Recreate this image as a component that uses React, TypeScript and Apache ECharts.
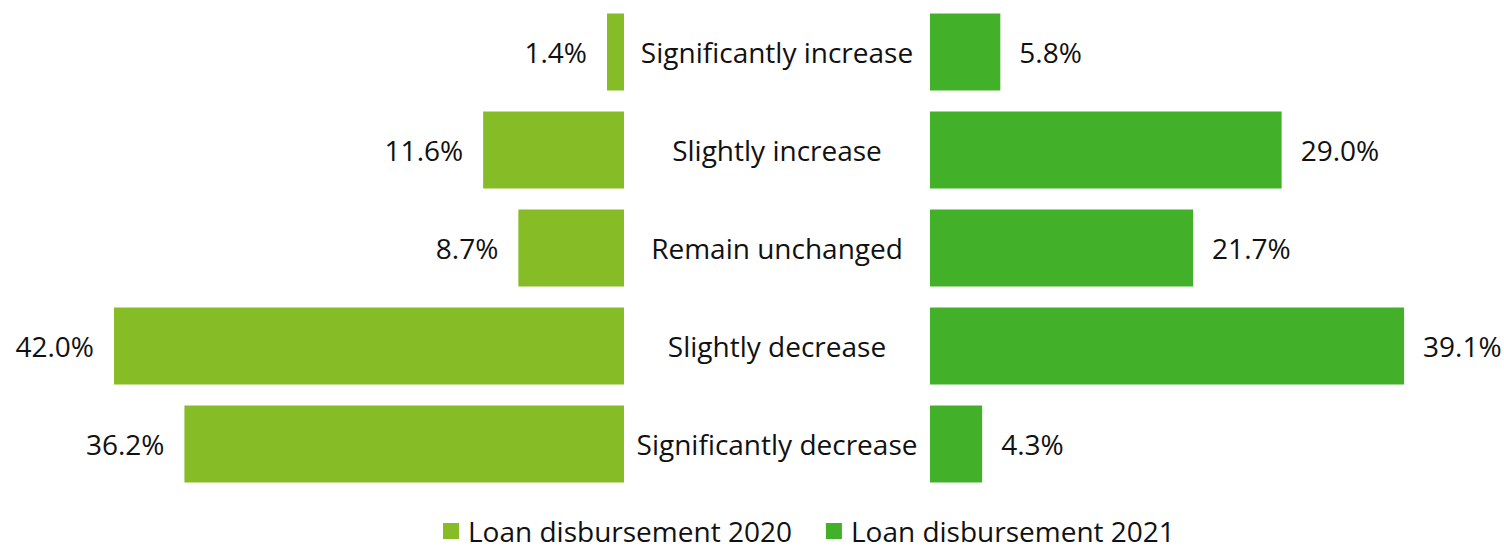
import React, { useEffect, useRef } from "react";
import * as echarts from "echarts";

const categories = [
  "Significantly increase",
  "Slightly increase",
  "Remain unchanged",
  "Slightly decrease",
  "Significantly decrease",
];
const values2020 = [1.4, 11.6, 8.7, 42.0, 36.2];
const values2021 = [5.8, 29.0, 21.7, 39.1, 4.3];
const seriesNames = ["Loan disbursement 2020", "Loan disbursement 2021"];

const FONT = "'Open Sans', 'Noto Sans', sans-serif";
const C2020 = "#86BC25";
const C2021 = "#43B02A";
const FS = 28;

export default function App() {
  const ref = useRef<HTMLDivElement>(null);
  useEffect(() => {
    if (!ref.current) return;
    const chart = echarts.init(ref.current, null, { renderer: "svg" });
    const fmt = (p: any) => `${Number(p.value).toFixed(1)}%`;
    chart.setOption({
      animation: false,
      textStyle: { fontFamily: FONT },
      legend: {
        data: seriesNames,
        top: 512,
        left: 438,
        icon: "rect",
        itemWidth: 16,
        itemHeight: 16,
        itemGap: 34,
        textStyle: { fontSize: FS, color: "#111", fontFamily: FONT, padding: [0, 0, 0, 4] },
      },
      grid: [
        { left: 114, right: 880, top: 3, height: 490 },
        { left: 930, right: 89, top: 3, height: 490 },
      ],
      xAxis: [
        { gridIndex: 0, type: "value", min: 0, max: 42, inverse: true, show: false },
        { gridIndex: 1, type: "value", min: 0, max: 40, show: false },
      ],
      yAxis: [
        { gridIndex: 0, type: "category", data: categories, inverse: true, show: false },
        {
          gridIndex: 1,
          type: "category",
          data: categories,
          inverse: true,
          axisLine: { show: false },
          axisTick: { show: false },
          axisLabel: {
            margin: 153,
            align: "center",
            fontSize: FS,
            color: "#111",
            fontFamily: FONT,
          },
        },
      ],
      series: [
        {
          name: seriesNames[0],
          type: "bar",
          xAxisIndex: 0,
          yAxisIndex: 0,
          data: values2020,
          barWidth: 77,
          itemStyle: { color: C2020 },
          label: {
            show: true,
            position: "left",
            distance: 20,
            formatter: fmt,
            fontSize: FS,
            color: "#111",
            fontFamily: FONT,
          },
        },
        {
          name: seriesNames[1],
          type: "bar",
          xAxisIndex: 1,
          yAxisIndex: 1,
          data: values2021,
          barWidth: 77,
          itemStyle: { color: C2021 },
          label: {
            show: true,
            position: "right",
            distance: 19,
            formatter: fmt,
            fontSize: FS,
            color: "#111",
            fontFamily: FONT,
          },
        },
      ],
    });
    return () => chart.dispose();
  }, []);
  return (
    <div
      ref={ref}
      style={{ position: "fixed", left: 0, top: 0, width: 1504, height: 549, background: "#fff" }}
    />
  );
}
